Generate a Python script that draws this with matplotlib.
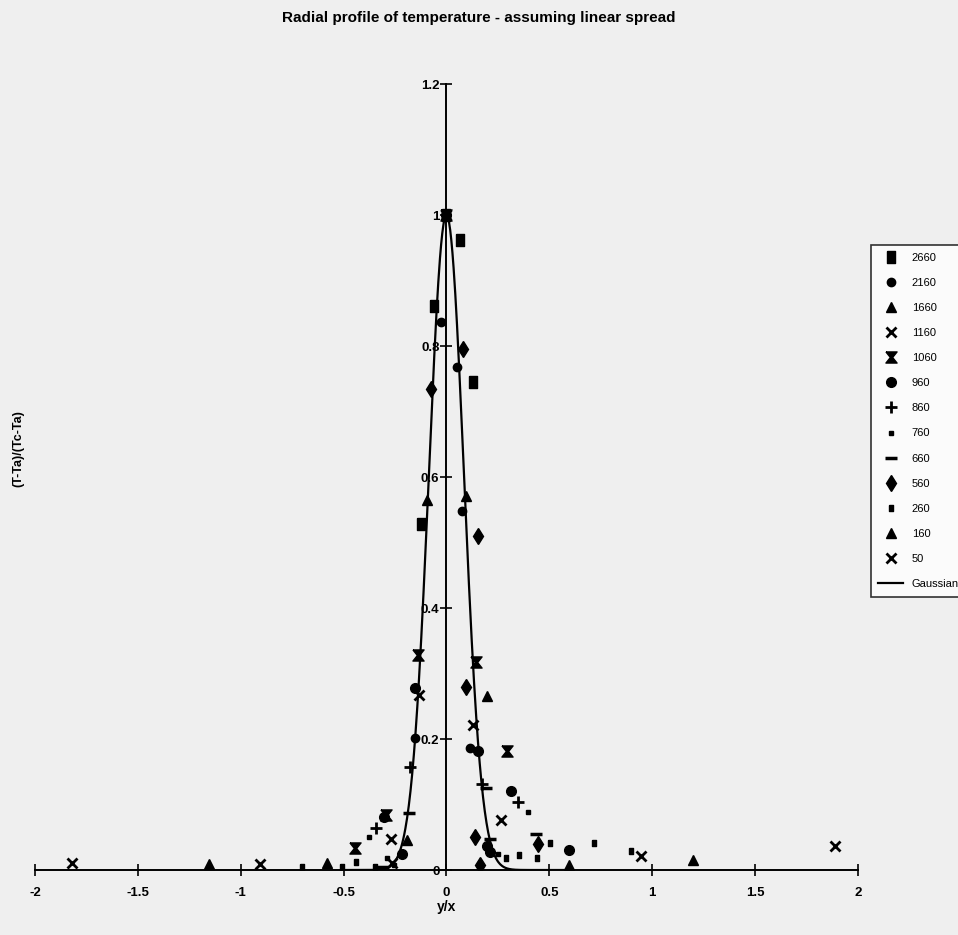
import numpy as np
import matplotlib
matplotlib.use('Agg')
import matplotlib.pyplot as plt

# series: (y/x, (T-Ta)/(Tc-Ta))
labels = ['2660', '2160', '1660', '1160', '1060', '960', '860', '760', '660', '560', '260', '160', '50']

x_2660 = [0.0, 0.068, -0.062, 0.128, -0.123]
y_2660 = [1.0, 0.962, 0.861, 0.745, 0.528]

x_2160 = [0.0, -0.024, 0.053, 0.076, -0.154, 0.117]
y_2160 = [1.0, 0.836, 0.768, 0.548, 0.201, 0.186]

x_1660 = [0.0, -0.094, 0.097, 0.198, -0.191]
y_1660 = [1.0, 0.565, 0.571, 0.266, 0.046]

x_1160 = [0.0, -0.133, 0.130, 0.267, -0.269]
y_1160 = [1.0, 0.267, 0.221, 0.077, 0.047]

x_1060 = [0.0, -0.139, 0.144, 0.295, -0.296, -0.442]
y_1060 = [1.0, 0.328, 0.318, 0.182, 0.084, 0.033]

x_960 = [0.0, -0.151, 0.154, 0.314, -0.305, -0.215, 0.198, 0.214, 0.594]
y_960 = [1.0, 0.278, 0.181, 0.120, 0.081, 0.025, 0.036, 0.028, 0.031]

x_860 = [-0.175, 0.173, 0.347, -0.340]
y_860 = [0.158, 0.132, 0.104, 0.064]

x_760 = [0.395, -0.374, 0.251, -0.256, -0.288]
y_760 = [0.089, 0.051, 0.025, 0.008, 0.018]

x_660 = [-0.183, 0.194, 0.214, 0.433, -0.313]
y_660 = [0.087, 0.125, 0.047, 0.055, 0.004]

x_560 = [-0.073, 0.081, 0.152, 0.096, 0.141, 0.444, 0.165]
y_560 = [0.734, 0.795, 0.510, 0.279, 0.050, 0.040, 0.008]

x_260 = [0.505, 0.441, 0.716, 0.898, -0.439, -0.507, -0.348, 0.290, 0.351, -0.701]
y_260 = [0.041, 0.018, 0.041, 0.029, 0.013, 0.004, 0.004, 0.019, 0.023, 0.005]

x_160 = [1.199, -1.155, -0.580, 0.594]
y_160 = [0.015, 0.009, 0.010, 0.008]

x_50 = [-1.819, -0.904, 0.946, 1.891, -0.264]
y_50 = [0.010, 0.009, 0.021, 0.037, 0.010]

# gaussian, half width at half max 0.1
gauss_x = np.linspace(-0.5, 0.6, 400)
gauss_y = np.exp(-np.log(2) * (gauss_x / 0.1) ** 2)

hourglass = [(-1, 1), (1, 1), (0.2, 0), (1, -1), (-1, -1), (-0.2, 0), (-1, 1)]
tall_sq = [(-0.6, 1), (0.6, 1), (0.6, -1), (-0.6, -1), (-0.6, 1)]

styles = {
    '2660': dict(marker=tall_sq, ms=9),
    '2160': dict(marker='o', ms=6),
    '1660': dict(marker='^', ms=7),
    '1160': dict(marker='x', ms=7, mew=2),
    '1060': dict(marker=hourglass, ms=8),
    '960': dict(marker='o', ms=7),
    '860': dict(marker='+', ms=8, mew=2),
    '760': dict(marker='s', ms=3),
    '660': dict(marker='_', ms=8, mew=2.5),
    '560': dict(marker='d', ms=8),
    '260': dict(marker=tall_sq, ms=5),
    '160': dict(marker='^', ms=7),
    '50': dict(marker='x', ms=7, mew=2),
}

data = {
    '2660': (x_2660, y_2660), '2160': (x_2160, y_2160), '1660': (x_1660, y_1660),
    '1160': (x_1160, y_1160), '1060': (x_1060, y_1060), '960': (x_960, y_960),
    '860': (x_860, y_860), '760': (x_760, y_760), '660': (x_660, y_660),
    '560': (x_560, y_560), '260': (x_260, y_260), '160': (x_160, y_160),
    '50': (x_50, y_50),
}

plt.rcParams['font.family'] = ['Liberation Sans Narrow', 'Liberation Sans', 'DejaVu Sans']
bg = '#efefef'
fig = plt.figure(figsize=(9.58, 9.35), dpi=100, facecolor=bg)
ax = fig.add_axes([0.0365, 0.0695, 0.859, 0.8406], facecolor=bg)

for lab in labels:
    xs, ys = data[lab]
    ax.plot(xs, ys, linestyle='none', color='black', label=lab, **styles[lab])
ax.plot(gauss_x, gauss_y, color='black', lw=1.6, label='Gaussian')

ax.set_xlim(-2, 2)
ax.set_ylim(0, 1.2)
ax.spines['left'].set_position(('data', 0))
ax.spines['top'].set_visible(False)
ax.spines['right'].set_visible(False)
for s in ('left', 'bottom'):
    ax.spines[s].set_linewidth(1.4)
ax.set_xticks(np.arange(-2, 2.01, 0.5))
ax.set_xticklabels(['-2', '-1.5', '-1', '-0.5', '0', '0.5', '1', '1.5', '2'])
ax.set_yticks(np.arange(0, 1.21, 0.2))
ax.set_yticklabels(['0', '0.2', '0.4', '0.6', '0.8', '1', '1.2'])
ax.tick_params(axis='both', direction='inout', length=8, width=1.2, labelsize=9.5)
ax.tick_params(axis='x', pad=8)
ax.tick_params(axis='y', pad=1)
for t in ax.get_xticklabels() + ax.get_yticklabels():
    t.set_fontweight('bold')

ax.set_xlabel('y/x', fontsize=10, fontweight='bold', labelpad=1)
fig.text(0.5, 0.981, 'Radial profile of temperature - assuming linear spread',
         ha='center', va='center', fontsize=11, fontweight='bold')
fig.text(0.019, 0.52, '(T-Ta)/(Tc-Ta)', rotation=90, ha='center', va='center',
         fontsize=9, fontweight='bold')

leg = ax.legend(loc='upper left', bbox_to_anchor=(0.903, 0.744),
                bbox_transform=fig.transFigure, frameon=True, fancybox=False,
                fontsize=8, labelspacing=1.36, handlelength=2.2,
                borderpad=0.7, facecolor='white', edgecolor='black')
leg.get_frame().set_linewidth(1.2)

fig.savefig('out.png', dpi=100, facecolor=bg)
